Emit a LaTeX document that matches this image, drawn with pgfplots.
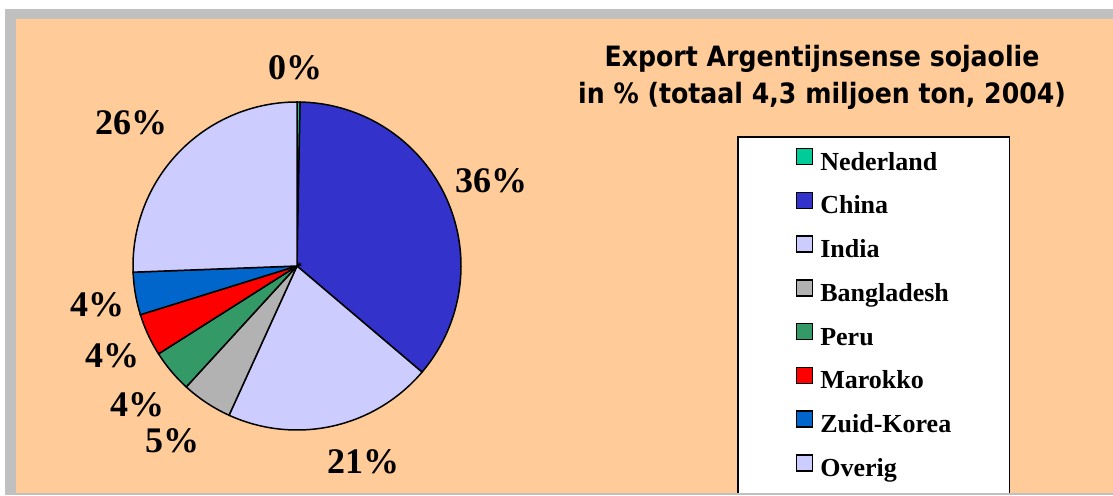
\documentclass[border=0pt]{standalone}
\usepackage{pgfplots}
\pgfplotsset{compat=1.18}
\usepackage{fontspec}
\setmainfont{Liberation Serif}
\newfontfamily\titlefont[FakeStretch=0.9]{DejaVu Sans}

\definecolor{ned}{HTML}{00CC99}
\definecolor{china}{HTML}{3333CC}
\definecolor{india}{HTML}{CCCCFF}
\definecolor{bangl}{HTML}{B2B2B2}
\definecolor{peru}{HTML}{339966}
\definecolor{marok}{HTML}{FF0000}
\definecolor{zkorea}{HTML}{0066CC}
\definecolor{overig}{HTML}{CCCCFF}
\definecolor{peach}{HTML}{FFCC99}
\definecolor{framegray}{HTML}{C0C0C0}

% shares in %, cumulative start and end, clockwise from 12 o'clock
% Nederland 0.3, China 35.9, India 20.6, Bangladesh 5.0,
% Peru 4.2, Marokko 4.2, Zuid-Korea 4.2, Overig 25.6

\begin{document}
\begin{tikzpicture}
\begin{axis}[
    at={(0,0)}, anchor=south west,
    scale only axis, width=1113pt, height=495pt,
    xmin=0, xmax=1113, ymin=0, ymax=495,
    hide axis, clip=false]
  \fill[white] (axis cs:0,0) rectangle (axis cs:1113,495);
  \fill[framegray] (axis cs:5,0) rectangle (axis cs:1113,486);
  \fill[peach] (axis cs:16,2) rectangle (axis cs:1113,476);

  \node[font=\titlefont\bfseries\fontsize{28}{28}\selectfont, anchor=base, inner sep=0pt]
    at (axis cs:822,428) {Export Argentijnsense sojaolie};
  \node[font=\titlefont\bfseries\fontsize{28}{28}\selectfont, anchor=base, inner sep=0pt]
    at (axis cs:822,391) {in \% (totaal 4,3 miljoen ton, 2004)};

  \begin{scope}[every node/.style={font=\bfseries\fontsize{36}{36}\selectfont, anchor=base, inner sep=0pt}]
    \node at (axis cs:295,415) {0\%};
    \node at (axis cs:491,302) {36\%};
    \node at (axis cs:363,21) {21\%};
    \node at (axis cs:172,42) {5\%};
    \node at (axis cs:137,78) {4\%};
    \node at (axis cs:112,127) {4\%};
    \node at (axis cs:97,178) {4\%};
    \node at (axis cs:131,360) {26\%};
  \end{scope}
\end{axis}

\begin{axis}[
    at={(297pt,229pt)}, anchor=center,
    scale only axis, width=328pt, height=328pt,
    xmin=-1, xmax=1, ymin=-1, ymax=1,
    hide axis, clip=false,
    legend cell align=left,
    legend image code/.code={
      \draw[#1, draw=black, line width=1.5pt] (0pt,-1pt) rectangle (16pt,15pt);
      \path (23pt,0pt);},
    legend style={at={(1.8415,0.8963)}, anchor=north west,
      draw=black, line width=1.5pt, fill=white,
      inner xsep=58pt, inner ysep=11pt, row sep=15.5pt,
      font=\bfseries\fontsize{26}{26}\selectfont,
      nodes={inner sep=0pt, text height=19pt, text depth=6pt}},
    every axis plot/.append style={draw=black, line width=1.5pt,
      data cs=polar, samples=120}]
  \addplot[fill=ned,    domain={90-3.6*0.3}:{90-3.6*0}]     (\x,1) -- (axis cs:0,0) -- cycle;
  \addlegendentry{Nederland}
  \addplot[fill=china,  domain={90-3.6*36.2}:{90-3.6*0.3}]  (\x,1) -- (axis cs:0,0) -- cycle;
  \addlegendentry{China}
  \addplot[fill=india,  domain={90-3.6*56.8}:{90-3.6*36.2}] (\x,1) -- (axis cs:0,0) -- cycle;
  \addlegendentry{India}
  \addplot[fill=bangl,  domain={90-3.6*61.8}:{90-3.6*56.8}] (\x,1) -- (axis cs:0,0) -- cycle;
  \addlegendentry{Bangladesh}
  \addplot[fill=peru,   domain={90-3.6*66.0}:{90-3.6*61.8}] (\x,1) -- (axis cs:0,0) -- cycle;
  \addlegendentry{Peru}
  \addplot[fill=marok,  domain={90-3.6*70.2}:{90-3.6*66.0}] (\x,1) -- (axis cs:0,0) -- cycle;
  \addlegendentry{Marokko}
  \addplot[fill=zkorea, domain={90-3.6*74.4}:{90-3.6*70.2}] (\x,1) -- (axis cs:0,0) -- cycle;
  \addlegendentry{Zuid-Korea}
  \addplot[fill=overig, domain={90-3.6*100}:{90-3.6*74.4}]  (\x,1) -- (axis cs:0,0) -- cycle;
  \addlegendentry{Overig}
\end{axis}
\fill[framegray] (16pt,0) rectangle (1113pt,2pt);
\pgfresetboundingbox
\path (0,0) rectangle (1113pt,495pt);
\end{tikzpicture}
\end{document}
